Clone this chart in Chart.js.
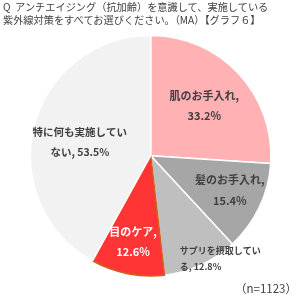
<!DOCTYPE html>
<html>
<head>
<meta charset="utf-8">
<script src="https://cdn.jsdelivr.net/npm/chart.js@4.4.1/dist/chart.umd.min.js"></script>
<style>
  html, body { margin: 0; padding: 0; background: #fff; }
  #wrap { position: relative; width: 300px; height: 296px; overflow: hidden; }
  #c { position: absolute; left: 0; top: 0; }
  .title { position: absolute; left: 3px; top: 0px; font-family: "Noto Sans CJK JP", sans-serif; font-size: 10.2px; line-height: 13px; color: #404040; white-space: nowrap; }
  .note { position: absolute; left: 235px; top: 280px; font-family: "Noto Sans CJK JP", sans-serif; font-size: 11.5px; line-height: 16px; color: #404040; white-space: nowrap; }
</style>
</head>
<body>
<div id="wrap">
  <canvas id="c" width="300" height="296"></canvas>
  <div class="title">Q&nbsp; アンチエイジング（抗加齢）を意識して、実施している<br>紫外線対策をすべてお選びください。（MA）【グラフ６】</div>
  <div class="note">（n=1123）</div>
</div>
<script>
const categories = ['肌のお手入れ', '髪のお手入れ', 'サプリを摂取している', '目のケア', '特に何も実施していない'];
const values = [33.2, 15.4, 12.8, 12.6, 53.5];
const sliceColors = ['#FFB1B4', '#A6A6A6', '#BFBFBF', '#FF3535', '#F2F2F2'];
const borderColors = ['#FFFFFF', '#FFFFFF', '#FFFFFF', '#C8661E', '#FFFFFF'];

// label placement options (radius fraction, angle offset in degrees, wrap index, font, color)
const labelOpts = [
  { f: 0.61, da: 0, wrap: null, size: 11, color: '#404040', gap: 20, align: 'center' },
  { f: 0.72, da: -1.6, wrap: null, size: 11, color: '#404040', gap: 21, align: 'center' },
  { f: 1.03, da: -9.5, wrap: 9, size: 9, color: '#404040', gap: 16, align: 'left' },
  { f: 0.73, da: 0.5, wrap: null, size: 11, color: '#FFFFFF', gap: 20, align: 'center' },
  { f: 0.60, da: -3.5, wrap: 9, size: 10.5, color: '#404040', gap: 20, align: 'center' }
];

function labelLines(i) {
  const o = labelOpts[i];
  const val = values[i].toFixed(1) + '%';
  if (o.wrap === null) return [categories[i] + ',', val];
  const full = categories[i] + ', ' + val;
  return [full.slice(0, o.wrap), full.slice(o.wrap)];
}

const sliceLabels = {
  id: 'sliceLabels',
  afterDatasetsDraw(chart) {
    const ctx = chart.ctx;
    const meta = chart.getDatasetMeta(0);
    meta.data.forEach((arc, i) => {
      const o = labelOpts[i];
      const p = arc.getProps(['x', 'y', 'startAngle', 'endAngle', 'outerRadius'], true);
      const mid = (p.startAngle + p.endAngle) / 2 + o.da * Math.PI / 180;
      const cx = p.x + Math.cos(mid) * p.outerRadius * o.f;
      const cy = p.y + Math.sin(mid) * p.outerRadius * o.f;
      const lines = labelLines(i);
      ctx.save();
      ctx.font = 'bold ' + o.size + 'px "Noto Sans CJK JP", sans-serif';
      ctx.fillStyle = o.color;
      ctx.textBaseline = 'middle';
      let x = cx;
      if (o.align === 'left') {
        ctx.textAlign = 'left';
        x = cx - ctx.measureText(lines[0]).width / 2;
      } else {
        ctx.textAlign = 'center';
      }
      const y0 = cy - o.gap * (lines.length - 1) / 2;
      lines.forEach((ln, k) => ctx.fillText(ln, x, y0 + k * o.gap));
      ctx.restore();
    });
  }
};

new Chart(document.getElementById('c'), {
  type: 'pie',
  data: {
    labels: categories,
    datasets: [{
      data: values,
      backgroundColor: sliceColors,
      borderColor: borderColors,
      borderWidth: 1.5
    }]
  },
  options: {
    responsive: false,
    animation: false,
    layout: { padding: { left: 29.7, right: 28.3, top: 34.7, bottom: 19.3 } },
    plugins: {
      legend: { display: false },
      tooltip: { enabled: false },
      title: { display: false }
    }
  },
  plugins: [sliceLabels]
});
</script>
</body>
</html>
